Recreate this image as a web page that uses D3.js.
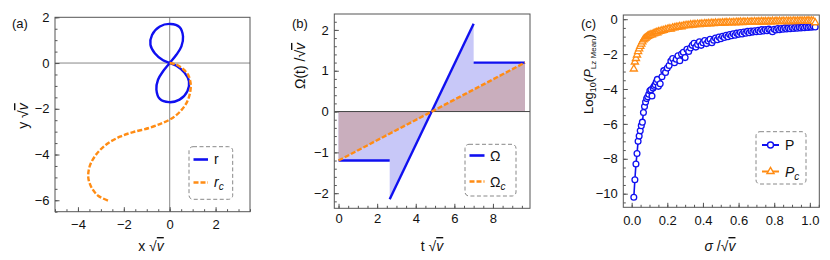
<!DOCTYPE html>
<html>
<head>
<meta charset="utf-8">
<script src="https://cdn.jsdelivr.net/npm/d3@7"></script>
<style>
  body { margin: 0; background: #fff; }
  svg text { font-family: "Liberation Sans", Arial, Helvetica, sans-serif; fill: #111; }
  .ov { text-decoration: overline; }
</style>
</head>
<body>
<svg id="fig" width="830" height="260"></svg>
<script>
// ---- panel (a): trajectories r and r_c
const rX = [0, 0.29, 0.65, 0.84, 0.77, 0.43, -0.03, -0.43, -0.58, -0.51, -0.29,
            0, 0.29, 0.51, 0.58, 0.43, 0.03, -0.43, -0.77, -0.84, -0.65, -0.29];
const rY = [0, -0.12, -0.43, -0.80, -1.23, -1.60, -1.71, -1.57, -1.16, -0.73, -0.36,
            0, 0.36, 0.73, 1.16, 1.57, 1.71, 1.60, 1.23, 0.80, 0.43, 0.12];
const rcX = [0, 0.29, 0.58, 0.80, 0.91, 0.90, 0.77, 0.51, 0.14, -0.29, -0.87, -1.59,
             -2.17, -2.75, -3.19, -3.48, -3.55, -3.41, -3.12, -2.68];
const rcY = [0, -0.07, -0.26, -0.51, -0.87, -1.23, -1.67, -2.06, -2.39, -2.61, -2.83, -3.02,
             -3.22, -3.55, -3.98, -4.49, -5.00, -5.44, -5.80, -6.02];

// ---- panel (b): Omega(t) and Omega_c(t)
const omegaT = [0, 2.65, 2.65, 7.0, 7.0, 9.66];
const omegaV = [-1.2, -1.2, -2.15, 2.15, 1.2, 1.2];
const omegaCT = [0, 9.66];
const omegaCV = [-1.2, 1.2];

// ---- panel (c): log10 of mean P_Lz vs sigma
const sigma = [0.012, 0.018, 0.024, 0.030, 0.036, 0.042, 0.048, 0.054, 0.060, 0.066, 0.072, 0.078,
  0.084, 0.090, 0.096, 0.102, 0.108, 0.114, 0.120, 0.126, 0.132, 0.138, 0.144, 0.150,
  0.16, 0.17, 0.18, 0.19, 0.20, 0.21, 0.22, 0.23, 0.24, 0.25, 0.26, 0.27, 0.28, 0.29, 0.30,
  0.31, 0.32, 0.33, 0.34, 0.35, 0.36, 0.37, 0.38, 0.39, 0.40, 0.41, 0.42, 0.43, 0.44, 0.45,
  0.46, 0.47, 0.48, 0.49, 0.50, 0.51, 0.52, 0.53, 0.54, 0.55, 0.56, 0.57, 0.58, 0.59, 0.60,
  0.61, 0.62, 0.63, 0.64, 0.65, 0.66, 0.67, 0.68, 0.69, 0.70, 0.71, 0.72, 0.73, 0.74, 0.75,
  0.76, 0.77, 0.78, 0.79, 0.80, 0.81, 0.82, 0.83, 0.84, 0.85, 0.86, 0.87, 0.88, 0.89, 0.90,
  0.91, 0.92, 0.93, 0.94, 0.95, 0.96, 0.97, 0.98, 0.99, 1.00, 1.01, 1.02, 1.03];
const logP = [-10.2, -9.2, -8.3, -7.7, -7.0, -6.7, -6.4, -6.1, -5.9, -5.35, -5.0, -4.75,
  -4.55, -4.45, -4.3, -4.1, -4.05, -4.4, -3.95, -3.85, -3.75, -3.6, -3.45, -3.85,
  -3.7, -3.3, -2.95, -3.05, -2.8, -2.65, -2.4, -2.25, -2.5, -2.3, -2.1, -2.38, -2.0, -1.9, -2.2,
  -1.72, -1.85, -1.65, -1.5, -1.38, -1.6, -1.45, -1.3, -1.5, -1.35, -1.22, -1.4, -1.25, -1.15, -1.35,
  -1.2, -1.08, -1.18, -1.02, -1.12, -0.98, -1.05, -0.92, -1.0, -0.88, -0.95, -0.84, -0.92, -0.8, -0.87,
  -0.76, -0.85, -0.74, -0.8, -0.7, -0.78, -0.68, -0.74, -0.66, -0.72, -0.63, -0.7, -0.6, -0.68, -0.6,
  -0.66, -0.57, -0.64, -0.72, -0.58, -0.62, -0.54, -0.6, -0.53, -0.58, -0.5, -0.56, -0.5, -0.55, -0.48,
  -0.53, -0.47, -0.52, -0.46, -0.5, -0.45, -0.49, -0.44, -0.47, -0.43, -0.46, -0.42, -0.45];
const logPc = [-2.85, -2.45, -2.25, -2.05, -1.85, -1.7, -1.55, -1.42, -1.3, -1.18, -1.12, -1.08,
  -1.03, -0.98, -0.95, -0.92, -0.88, -0.9, -0.84, -0.82, -0.8, -0.76, -0.78, -0.72,
  -0.7, -0.66, -0.64, -0.6, -0.58, -0.55, -0.56, -0.5, -0.49, -0.46, -0.45, -0.42, -0.43, -0.38, -0.37,
  -0.35, -0.36, -0.32, -0.33, -0.3, -0.31, -0.28, -0.3, -0.27, -0.28, -0.25, -0.27, -0.24, -0.26, -0.23,
  -0.25, -0.22, -0.24, -0.21, -0.23, -0.2, -0.22, -0.19, -0.21, -0.18, -0.21, -0.18, -0.2, -0.17, -0.19,
  -0.16, -0.19, -0.16, -0.18, -0.15, -0.18, -0.15, -0.17, -0.14, -0.17, -0.14, -0.16, -0.13, -0.16, -0.13,
  -0.15, -0.13, -0.15, -0.12, -0.15, -0.12, -0.14, -0.12, -0.14, -0.11, -0.14, -0.11, -0.13, -0.11, -0.13,
  -0.1, -0.13, -0.1, -0.12, -0.1, -0.12, -0.1, -0.12, -0.09, -0.12, -0.1, -0.12, -0.2];

const BLUE = '#1010f0';
const ORANGE = '#ff8c14';
const svg = d3.select('#fig');

// inward frame ticks (major + minor) and a gray frame
function frame(g, x, y, o) {
  const [x0, x1] = x.range();
  const [yb, yt] = y.range();
  const style = s => s.call(a => a.select('.domain').remove())
    .call(a => a.selectAll('line').attr('stroke', '#555'))
    .call(a => a.selectAll('text').attr('font-size', 13).attr('font-family', null).attr('fill', '#111'))
    .attr('font-family', null).attr('font-size', null);
  g.append('g').attr('transform', `translate(0,${yb})`)
    .call(d3.axisBottom(x).tickValues(o.xMinor).tickSize(-2.5).tickFormat('')).call(style);
  g.append('g').attr('transform', `translate(0,${yb})`)
    .call(d3.axisBottom(x).tickValues(o.xMajor).tickSize(-4.5).tickPadding(o.xPad).tickFormat(o.xFmt)).call(style);
  g.append('g').attr('transform', `translate(${x0},0)`)
    .call(d3.axisLeft(y).tickValues(o.yMinor).tickSize(-2.5).tickFormat('')).call(style);
  g.append('g').attr('transform', `translate(${x0},0)`)
    .call(d3.axisLeft(y).tickValues(o.yMajor).tickSize(-4.5).tickPadding(5.5).tickFormat(o.yFmt)).call(style);
  g.append('rect')
    .attr('x', x0).attr('y', yt).attr('width', x1 - x0).attr('height', yb - yt)
    .attr('fill', 'none').attr('stroke', '#555').attr('stroke-width', 1);
}

function clip(id, x, y) {
  svg.append('clipPath').attr('id', id).append('rect')
    .attr('x', x.range()[0]).attr('y', y.range()[1])
    .attr('width', x.range()[1] - x.range()[0]).attr('height', y.range()[0] - y.range()[1]);
}

function legendBox(g, x, y, w, h) {
  g.append('rect').attr('x', x).attr('y', y).attr('width', w).attr('height', h)
    .attr('rx', 4).attr('fill', '#fff').attr('stroke', '#888')
    .attr('stroke-width', 1).attr('stroke-dasharray', '4,2.5');
}

// appends "√v" with a bar over the v
function sqrtV(t) {
  t.append('tspan').text('√');
  t.append('tspan').attr('class', 'ov').attr('font-style', 'italic').text('v');
}

const fmtInt = d3.format('d');

// ================= panel (a)
const xa = d3.scaleLinear([-5, 3.5], [55, 250]);
const ya = d3.scaleLinear([-6.5, 2], [211.7, 17.3]);
const ga = svg.append('g');
clip('clipA', xa, ya);
const pa = ga.append('g').attr('clip-path', 'url(#clipA)');

pa.append('line').attr('x1', xa(0)).attr('x2', xa(0)).attr('y1', ya.range()[0]).attr('y2', ya.range()[1])
  .attr('stroke', '#888').attr('stroke-width', 1);
pa.append('line').attr('y1', ya(0)).attr('y2', ya(0)).attr('x1', xa.range()[0]).attr('x2', xa.range()[1])
  .attr('stroke', '#888').attr('stroke-width', 1);

const lineR = d3.line().x(i => xa(rX[i])).y(i => ya(rY[i])).curve(d3.curveCatmullRomClosed);
pa.append('path').attr('d', lineR(d3.range(rX.length)))
  .attr('fill', 'none').attr('stroke', BLUE).attr('stroke-width', 2.4);
const lineRc = d3.line().x(i => xa(rcX[i])).y(i => ya(rcY[i])).curve(d3.curveCatmullRom);
pa.append('path').attr('d', lineRc(d3.range(rcX.length)))
  .attr('fill', 'none').attr('stroke', ORANGE).attr('stroke-width', 2.4).attr('stroke-dasharray', '5,2');

frame(ga, xa, ya, {
  xMajor: [-4, -2, 0, 2], xMinor: d3.range(-5, 3.51, 0.5), xPad: 8, xFmt: fmtInt,
  yMajor: [-6, -4, -2, 0, 2], yMinor: d3.range(-6.5, 2.01, 0.5), yFmt: fmtInt
});

legendBox(ga, 189, 146.7, 43.7, 52.6);
ga.append('line').attr('x1', 193.5).attr('x2', 208).attr('y1', 159.5).attr('y2', 159.5)
  .attr('stroke', BLUE).attr('stroke-width', 2.6);
ga.append('text').attr('x', 214).attr('y', 164).attr('font-size', 14).text('r');
ga.append('line').attr('x1', 193.5).attr('x2', 208).attr('y1', 182.5).attr('y2', 182.5)
  .attr('stroke', ORANGE).attr('stroke-width', 2.6).attr('stroke-dasharray', '5,2');
const lrc = ga.append('text').attr('x', 214).attr('y', 187).attr('font-size', 14).attr('font-style', 'italic');
lrc.append('tspan').text('r');
lrc.append('tspan').attr('font-size', 10).attr('dy', 3).text('c');

ga.append('text').attr('x', 12).attr('y', 28).attr('font-size', 13).text('(a)');
const xla = ga.append('text').attr('x', 151).attr('y', 251).attr('text-anchor', 'middle').attr('font-size', 14);
xla.append('tspan').text('x ');
sqrtV(xla);
const yla = ga.append('text').attr('transform', 'translate(28,116) rotate(-90)')
  .attr('text-anchor', 'middle').attr('font-size', 14);
yla.append('tspan').text('y ');
sqrtV(yla);

// ================= panel (b)
const xb = d3.scaleLinear([-0.22, 9.92], [334.3, 530]);
const yb = d3.scaleLinear([-2.37, 2.39], [208.3, 14]);
const gb = svg.append('g');
clip('clipB', xb, yb);
const pb = gb.append('g').attr('clip-path', 'url(#clipB)');

const areaB = d3.area().x(i => xb(omegaT[i])).y0(yb(0)).y1(i => yb(omegaV[i]));
pb.append('path').attr('d', areaB(d3.range(omegaT.length))).attr('fill', '#c8c8f8');
const areaBc = d3.area().x(i => xb(omegaCT[i])).y0(yb(0)).y1(i => yb(omegaCV[i]));
pb.append('path').attr('d', areaBc(d3.range(omegaCT.length))).attr('fill', '#c9aebd');

pb.append('line').attr('y1', yb(0)).attr('y2', yb(0)).attr('x1', xb.range()[0]).attr('x2', xb.range()[1])
  .attr('stroke', '#444').attr('stroke-width', 1);

// blue steps are drawn without the vertical jumps
[[0, 1], [2, 3], [4, 5]].forEach(seg => {
  pb.append('line')
    .attr('x1', xb(omegaT[seg[0]])).attr('y1', yb(omegaV[seg[0]]))
    .attr('x2', xb(omegaT[seg[1]])).attr('y2', yb(omegaV[seg[1]]))
    .attr('stroke', BLUE).attr('stroke-width', 2.4);
});
const lineBc = d3.line().x(i => xb(omegaCT[i])).y(i => yb(omegaCV[i]));
pb.append('path').attr('d', lineBc(d3.range(omegaCT.length)))
  .attr('fill', 'none').attr('stroke', ORANGE).attr('stroke-width', 2.4).attr('stroke-dasharray', '5,2');

frame(gb, xb, yb, {
  xMajor: [0, 2, 4, 6, 8], xMinor: d3.range(0, 9.9, 0.5), xPad: 5, xFmt: fmtInt,
  yMajor: [-2, -1, 0, 1, 2], yMinor: d3.range(-2.2, 2.3, 0.2), yFmt: fmtInt
});

legendBox(gb, 465, 144.3, 51, 51.7);
gb.append('line').attr('x1', 469.5).attr('x2', 484.5).attr('y1', 155.5).attr('y2', 155.5)
  .attr('stroke', BLUE).attr('stroke-width', 2.6);
gb.append('text').attr('x', 490).attr('y', 160.5).attr('font-size', 14).text('Ω');
gb.append('line').attr('x1', 469.5).attr('x2', 484.5).attr('y1', 181.5).attr('y2', 181.5)
  .attr('stroke', ORANGE).attr('stroke-width', 2.6).attr('stroke-dasharray', '5,2');
const loc = gb.append('text').attr('x', 490).attr('y', 186.5).attr('font-size', 14);
loc.append('tspan').text('Ω');
loc.append('tspan').attr('font-size', 10).attr('font-style', 'italic').attr('dy', 3).text('c');

gb.append('text').attr('x', 292).attr('y', 28).attr('font-size', 13).text('(b)');
const xlb = gb.append('text').attr('x', 432).attr('y', 251).attr('text-anchor', 'middle').attr('font-size', 14);
xlb.append('tspan').text('t  ');
sqrtV(xlb);
const ylb = gb.append('text').attr('transform', 'translate(305,66) rotate(-90)')
  .attr('text-anchor', 'middle').attr('font-size', 14);
ylb.append('tspan').text('Ω(t)  /');
sqrtV(ylb);

// ================= panel (c)
const xc = d3.scaleLinear([-0.047, 1.053], [623.3, 819.3]);
const yc = d3.scaleLinear([-10.78, 0.24], [207.3, 15]);
const gc = svg.append('g');
clip('clipC', xc, yc);
const pc = gc.append('g').attr('clip-path', 'url(#clipC)');

const lineP = d3.line().x(i => xc(sigma[i])).y(i => yc(logP[i]));
pc.append('path').attr('d', lineP(d3.range(sigma.length)))
  .attr('fill', 'none').attr('stroke', BLUE).attr('stroke-width', 1.6);
pc.selectAll('circle.p').data(d3.range(sigma.length)).join('circle').attr('class', 'p')
  .attr('cx', i => xc(sigma[i])).attr('cy', i => yc(logP[i])).attr('r', 2.9)
  .attr('fill', '#fff').attr('stroke', BLUE).attr('stroke-width', 1.3);

const tri = d3.symbol(d3.symbolTriangle, 22);
const linePc = d3.line().x(i => xc(sigma[i])).y(i => yc(logPc[i]));
pc.append('path').attr('d', linePc(d3.range(sigma.length)))
  .attr('fill', 'none').attr('stroke', ORANGE).attr('stroke-width', 1.8);
pc.selectAll('path.pc').data(d3.range(sigma.length)).join('path').attr('class', 'pc')
  .attr('d', tri).attr('transform', i => `translate(${xc(sigma[i])},${yc(logPc[i])})`)
  .attr('fill', '#fff').attr('stroke', ORANGE).attr('stroke-width', 1.3);

frame(gc, xc, yc, {
  xMajor: [0, 0.2, 0.4, 0.6, 0.8, 1.0], xMinor: d3.range(0, 1.051, 0.05), xPad: 8, xFmt: d3.format('.1f'),
  yMajor: [-10, -8, -6, -4, -2, 0], yMinor: d3.range(-10.5, 0.1, 0.5), yFmt: fmtInt
});

legendBox(gc, 756, 131.7, 50, 52.3);
gc.append('line').attr('x1', 762).attr('x2', 779).attr('y1', 145).attr('y2', 145)
  .attr('stroke', BLUE).attr('stroke-width', 2);
gc.append('circle').attr('cx', 770.5).attr('cy', 145).attr('r', 3)
  .attr('fill', '#fff').attr('stroke', BLUE).attr('stroke-width', 1.4);
gc.append('text').attr('x', 785).attr('y', 150).attr('font-size', 14).text('P');
gc.append('line').attr('x1', 762).attr('x2', 779).attr('y1', 171.5).attr('y2', 171.5)
  .attr('stroke', ORANGE).attr('stroke-width', 2);
gc.append('path').attr('d', tri).attr('transform', 'translate(770.5,171.5)')
  .attr('fill', '#fff').attr('stroke', ORANGE).attr('stroke-width', 1.4);
const lpc = gc.append('text').attr('x', 785).attr('y', 176.5).attr('font-size', 14).attr('font-style', 'italic');
lpc.append('tspan').text('P');
lpc.append('tspan').attr('font-size', 10).attr('dy', 3).text('c');

gc.append('text').attr('x', 581).attr('y', 28).attr('font-size', 13).text('(c)');
const xlc = gc.append('text').attr('x', 720).attr('y', 251).attr('text-anchor', 'middle').attr('font-size', 14);
xlc.append('tspan').attr('font-style', 'italic').text('σ');
xlc.append('tspan').text(' /');
sqrtV(xlc);
const ylc = gc.append('text').attr('transform', 'translate(593,74) rotate(-90)')
  .attr('text-anchor', 'middle').attr('font-size', 13);
ylc.append('tspan').text('Log');
ylc.append('tspan').attr('font-size', 9).attr('dy', 3).text('10');
ylc.append('tspan').attr('dy', -3).text('(');
ylc.append('tspan').attr('font-style', 'italic').text('P');
ylc.append('tspan').attr('font-size', 8).attr('dy', 3).text('Lz Mean');
ylc.append('tspan').attr('dy', -3).text(')');
</script>
</body>
</html>
